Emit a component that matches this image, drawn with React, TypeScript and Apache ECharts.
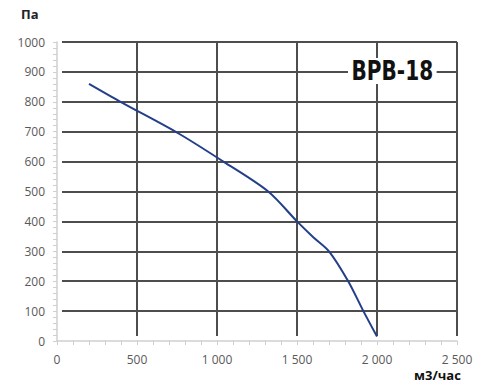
import React, { useEffect, useRef } from "react";
import * as echarts from "echarts";

const flowValues = [200, 400, 760, 1040, 1320, 1500, 1600, 1700, 1820, 1915, 2000];
const pressureValues = [860, 799, 694, 600, 500, 400, 348, 300, 200, 100, 15];
const xTitle = "м3/час";
const yTitle = "Па";
const modelName = "BPB-18";

const fmtX = (v: number) => (v >= 1000 ? `${Math.floor(v / 1000)} ${String(v % 1000).padStart(3, "0")}` : String(v));
const fmtY = (v: number) => String(v);

export default function App() {
  const ref = useRef<HTMLDivElement>(null);
  useEffect(() => {
    if (!ref.current) return;
    const chart = echarts.init(ref.current, null, { renderer: "svg" });
    const font = "'Open Sans', 'Noto Sans', sans-serif";
    const gridLine = { color: "#4d4d4d", width: 2 };
    chart.setOption({
      animation: false,
      backgroundColor: "#fff",
      grid: [
        { left: 57, right: 43, top: 42, bottom: 47 },
        { left: 62, right: 43, top: 42, bottom: 47 },
        { left: 57, right: 43, top: 42, bottom: 52 },
      ],
      xAxis: [
        {
          gridIndex: 0, type: "value", min: 0, max: 2500, interval: 500,
          axisLine: { show: true, lineStyle: { color: "#cfcfcf", width: 1.5 } },
          axisTick: { show: true, length: 4, lineStyle: { color: "#cfcfcf" } },
          minorTick: { show: true, splitNumber: 5, length: 4, lineStyle: { color: "#cfcfcf" } },
          splitLine: { show: false },
          axisLabel: { color: "#595959", fontSize: 12, fontFamily: font, margin: 12, formatter: fmtX },
        },
        {
          gridIndex: 1, type: "value", min: 0, max: 2500, interval: 500, show: false,
          splitLine: { show: false },
        },
        {
          gridIndex: 2, type: "value", min: 0, max: 2500, interval: 500,
          axisLine: { show: false }, axisTick: { show: false }, axisLabel: { show: false },
          splitLine: { show: true, showMinLine: false, showMaxLine: true, lineStyle: gridLine },
        },
      ],
      yAxis: [
        {
          gridIndex: 0, type: "value", min: 0, max: 1000, interval: 100,
          axisLine: { show: true, lineStyle: { color: "#cfcfcf", width: 1.5 } },
          axisTick: { show: true, length: 4, lineStyle: { color: "#cfcfcf" } },
          minorTick: { show: true, splitNumber: 5, length: 4, lineStyle: { color: "#cfcfcf" } },
          splitLine: { show: false },
          axisLabel: { color: "#595959", fontSize: 12, fontFamily: font, margin: 12, formatter: fmtY },
        },
        {
          gridIndex: 1, type: "value", min: 0, max: 1000, interval: 100,
          axisLine: { show: false }, axisTick: { show: false }, axisLabel: { show: false },
          splitLine: { show: true, showMinLine: false, showMaxLine: true, lineStyle: gridLine },
        },
        {
          gridIndex: 2, type: "value", min: 0, max: 1000, show: false,
          splitLine: { show: false },
        },
      ],
      graphic: [
        {
          type: "text", left: 21, top: 7,
          style: { text: yTitle, fontSize: 13, fontWeight: "bold", fontFamily: font, fill: "#222" },
        },
        {
          type: "text", left: 414, top: 368,
          style: { text: xTitle, fontSize: 13, fontWeight: "bold", fontFamily: font, fill: "#111" },
        },
        {
          type: "text", x: 348, y: 58, scaleX: 0.86, z: 100,
          style: {
            text: modelName, fontSize: 26, fontWeight: "bold",
            fontFamily: "'DejaVu Sans Condensed', 'Open Sans', sans-serif",
            fill: "#111", backgroundColor: "#fff", padding: [0, 4, 0, 4],
          },
        },
      ],
      series: [
        {
          type: "line", xAxisIndex: 0, yAxisIndex: 0,
          data: flowValues.map((x, i) => [x, pressureValues[i]]),
          smooth: 0.3, showSymbol: false, symbol: "none",
          lineStyle: { color: "#243f8a", width: 2 },
          z: 10,
        },
      ],
    });
    return () => chart.dispose();
  }, []);
  return <div ref={ref} style={{ width: 500, height: 388, position: "absolute", left: 0, top: 0 }} />;
}
